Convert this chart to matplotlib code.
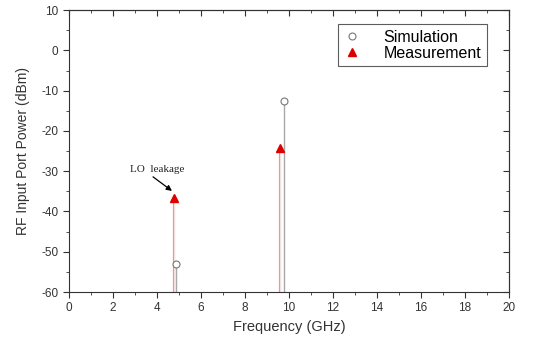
import matplotlib
matplotlib.use("Agg")
import matplotlib.pyplot as plt
from matplotlib.ticker import MultipleLocator

# data
sim_freq = [4.88, 9.77]
sim_power = [-53.0, -12.6]
meas_freq = [4.77, 9.59]
meas_power = [-36.6, -24.3]

plt.rcParams['font.family'] = ['Liberation Sans', 'DejaVu Sans']
plt.rcParams['axes.unicode_minus'] = False

fig = plt.figure(figsize=(5.41, 3.37), dpi=100)
ax = fig.add_axes([0.1275, 0.1335, 0.8135, 0.8365])

ymin = -60
# stems
ax.vlines(meas_freq, ymin, meas_power, colors='#e59a9a', linewidth=1.6, zorder=2)
ax.vlines(meas_freq, ymin, meas_power, colors='white', linewidth=0.5, zorder=2)
ax.vlines(sim_freq, ymin, sim_power, colors='#a8a8a8', linewidth=1.0, zorder=2)

ax.plot(sim_freq, sim_power, linestyle='none', marker='o', markersize=5,
        markerfacecolor='white', markeredgecolor='#777777', markeredgewidth=0.8,
        label='Simulation', zorder=3)
ax.plot(meas_freq, meas_power, linestyle='none', marker='^', markersize=6,
        color='#dd0000', label='Measurement', zorder=3)

# LO leakage label and arrow
ax.text(4.0, -29.6, 'LO  leakage', fontsize=8, family='Liberation Serif',
        ha='center', va='center', color='#222222')
ax.annotate('', xy=(4.68, -34.9), xytext=(3.82, -31.4),
            arrowprops=dict(arrowstyle='-|>', color='black', lw=0.9,
                            mutation_scale=8, shrinkA=0, shrinkB=0))

ax.set_xlim(0, 20)
ax.set_ylim(-60, 10)
ax.xaxis.set_major_locator(MultipleLocator(2))
ax.xaxis.set_minor_locator(MultipleLocator(1))
ax.yaxis.set_major_locator(MultipleLocator(10))
ax.yaxis.set_minor_locator(MultipleLocator(5))
ax.tick_params(which='both', direction='out', labelsize=8.5,
               color='#333333', labelcolor='#333333')
ax.tick_params(which='major', length=4)
ax.tick_params(which='minor', length=2.5)
for s in ax.spines.values():
    s.set_color('#333333')

# mirror ticks on top and right, pointing inward
top = ax.secondary_xaxis('top')
top.xaxis.set_major_locator(MultipleLocator(2))
top.xaxis.set_minor_locator(MultipleLocator(1))
top.tick_params(which='both', direction='in', labeltop=False, color='#333333')
top.tick_params(which='major', length=4)
top.tick_params(which='minor', length=2.5)
top.spines['top'].set_color('#333333')
right = ax.secondary_yaxis('right')
right.yaxis.set_major_locator(MultipleLocator(10))
right.yaxis.set_minor_locator(MultipleLocator(5))
right.tick_params(which='both', direction='in', labelright=False, color='#333333')
right.tick_params(which='major', length=4)
right.tick_params(which='minor', length=2.5)
right.spines['right'].set_color('#333333')

ax.set_xlabel('Frequency (GHz)', fontsize=10.5, color='#333333')
ax.set_ylabel('RF Input Port Power (dBm)', fontsize=10, color='#333333',
              labelpad=8)

leg = ax.legend(loc='upper right', bbox_to_anchor=(0.95, 0.95), fontsize=11.5,
                frameon=True, fancybox=False, edgecolor='#333333',
                handlelength=1.0, handletextpad=1.5, borderpad=0.35,
                borderaxespad=0, labelspacing=0.05)
leg.get_frame().set_linewidth(0.8)

fig.savefig('out.png', dpi=100)
